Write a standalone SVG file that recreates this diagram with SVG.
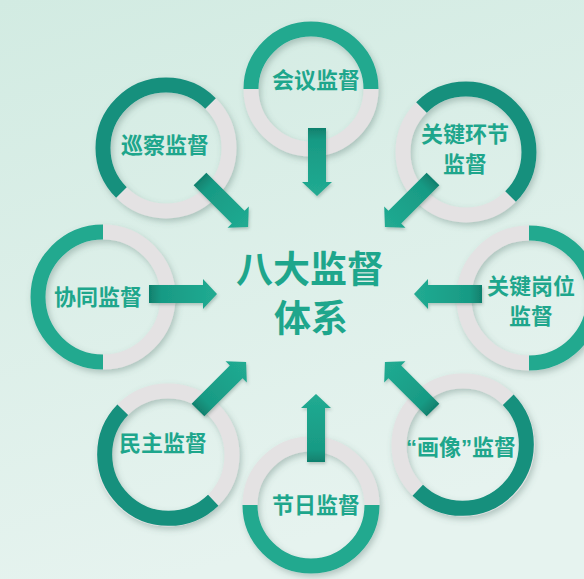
<svg xmlns="http://www.w3.org/2000/svg" width="584" height="579" viewBox="0 0 584 579">
  <defs>
    <linearGradient id="bg" x1="0" y1="0" x2="0.3" y2="1">
      <stop offset="0" stop-color="#d2ebe2"/>
      <stop offset="1" stop-color="#e6f3ef"/>
    </linearGradient>
    <linearGradient id="arrowGrad" x1="0" y1="0" x2="1" y2="0">
      <stop offset="0" stop-color="#10806d"/>
      <stop offset="0.18" stop-color="#189a84"/>
      <stop offset="1" stop-color="#21ab92"/>
    </linearGradient>
    <filter id="shadow" x="-20%" y="-20%" width="140%" height="140%">
      <feDropShadow dx="2" dy="3" stdDeviation="3" flood-color="#4d6e66" flood-opacity="0.35"/>
    </filter>
    <filter id="ashadow" x="-20%" y="-30%" width="140%" height="160%">
      <feDropShadow dx="1" dy="2" stdDeviation="1.5" flood-color="#3d5e56" flood-opacity="0.3"/>
    </filter>
    <path id="arrow" d="M0,-9 L54,-9 L54,-15 L68,0 L54,15 L54,9 L0,9 Z"/>
    <style>
      .gray { fill: none; stroke: #e4e2e3; stroke-width: 15; }
      .tealA { fill: none; stroke: #20a98f; stroke-width: 15; }
      .tealB { fill: none; stroke: #13907d; stroke-width: 15; }
      .lbl { font-family: "Noto Sans CJK SC", "Noto Sans", sans-serif; font-weight: 700; font-size: 22px; fill: #1ea68c; text-anchor: middle; }
      .big { font-family: "Noto Sans CJK SC", "Noto Sans", sans-serif; font-weight: 700; font-size: 37px; fill: #1ea68c; text-anchor: middle; }
      .q { font-family: "Liberation Sans", sans-serif; }
      .arr { fill: url(#arrowGrad); }
    </style>
  </defs>

  <rect width="584" height="579" fill="url(#bg)"/>

  <g id="node-huiyi">
    <g filter="url(#shadow)">
      <circle class="gray" cx="311" cy="89" r="60"/>
      <path class="tealA" d="M251,89 A60,60 0 0 1 371,89"/>
    </g>
    <text class="lbl" x="316" y="88">会议监督</text>
  </g>

  <g id="node-xuncha">
    <g filter="url(#shadow)">
      <circle class="gray" cx="166" cy="148" r="63"/>
      <path class="tealB" d="M121.45,192.55 A63,63 0 0 1 210.55,103.45"/>
    </g>
    <text class="lbl" x="165" y="153">巡察监督</text>
  </g>

  <g id="node-guanjianhuanjie">
    <g filter="url(#shadow)">
      <circle class="gray" cx="466" cy="152" r="63"/>
      <path class="tealB" d="M421.45,107.45 A63,63 0 0 1 510.55,196.55"/>
    </g>
    <text class="lbl" x="465" y="142">关键环节</text>
    <text class="lbl" x="465" y="172">监督</text>
  </g>

  <g id="node-xietong">
    <g filter="url(#shadow)">
      <circle class="gray" cx="103" cy="297" r="65"/>
      <path class="tealA" d="M103,362 A65,65 0 0 1 103,232"/>
    </g>
    <text class="lbl" x="98" y="305">协同监督</text>
  </g>

  <g id="node-guanjiangangwei">
    <g filter="url(#shadow)">
      <circle class="gray" cx="529" cy="298" r="65"/>
      <path class="tealA" d="M529,233 A65,65 0 0 1 529,363"/>
    </g>
    <text class="lbl" x="531" y="294">关键岗位</text>
    <text class="lbl" x="531" y="324">监督</text>
  </g>

  <g id="node-minzhu">
    <g filter="url(#shadow)">
      <circle class="gray" cx="168" cy="455" r="64"/>
      <path class="tealB" d="M213.25,500.25 A64,64 0 0 1 122.75,409.75"/>
    </g>
    <text class="lbl" x="163" y="451">民主监督</text>
  </g>

  <g id="node-huaxiang">
    <g filter="url(#shadow)">
      <circle class="gray" cx="463" cy="445" r="64"/>
      <path class="tealB" d="M508.25,399.75 A64,64 0 0 1 417.75,490.25"/>
    </g>
    <text class="lbl" x="461" y="455"><tspan class="q">“</tspan>画像<tspan class="q">”</tspan>监督</text>
  </g>

  <g id="node-jieri">
    <g filter="url(#shadow)">
      <circle class="gray" cx="311" cy="505" r="61"/>
      <path class="tealA" d="M372,505 A61,61 0 0 1 250,505"/>
    </g>
    <text class="lbl" x="316" y="513">节日监督</text>
  </g>

  <g id="node-center">
    <text class="big" x="310" y="283">八大监督</text>
    <text class="big" x="311" y="332">体系</text>
  </g>

  <g id="connectors" filter="url(#ashadow)">
    <use href="#arrow" class="arr" transform="translate(317,128) rotate(90)"/>
    <use href="#arrow" class="arr" transform="translate(316,462) rotate(-90)"/>
    <use href="#arrow" class="arr" transform="translate(149,294)"/>
    <use href="#arrow" class="arr" transform="translate(482,294) rotate(180)"/>
    <use href="#arrow" class="arr" transform="translate(200,179) rotate(45)"/>
    <use href="#arrow" class="arr" transform="translate(433,179) rotate(135)"/>
    <use href="#arrow" class="arr" transform="translate(198,410) rotate(-45)"/>
    <use href="#arrow" class="arr" transform="translate(433,410) rotate(-135)"/>
  </g>
</svg>
